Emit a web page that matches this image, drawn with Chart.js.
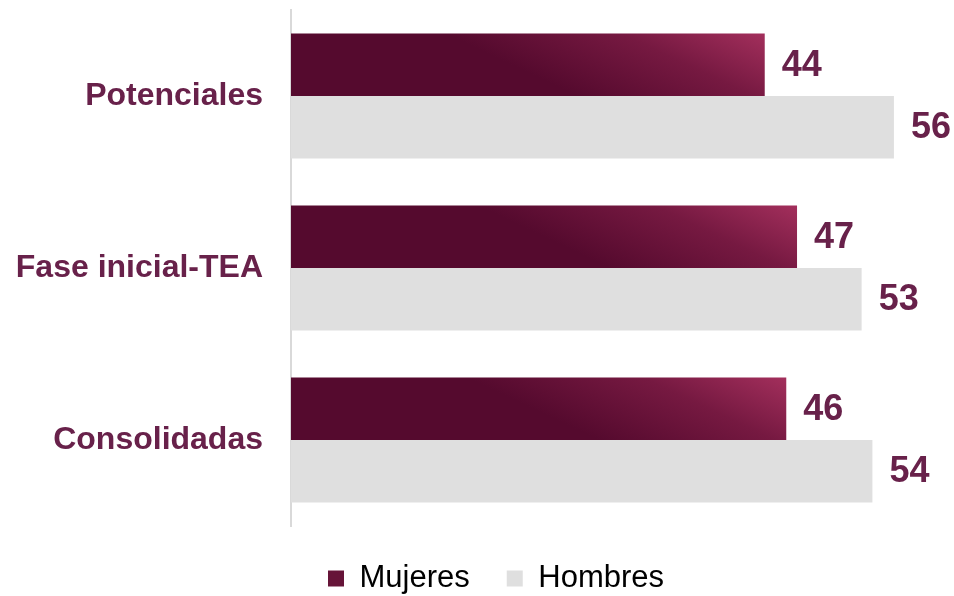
<!DOCTYPE html>
<html>
<head>
<meta charset="utf-8">
<script src="https://cdn.jsdelivr.net/npm/chart.js@4"></script>
<style>
  html, body { margin: 0; padding: 0; background: #fff; }
  #wrap { width: 954px; height: 596px; }
</style>
</head>
<body>
<div id="wrap"><canvas id="genderChart"></canvas></div>
<script>
// Data
const categories = ["Potenciales", "Fase inicial-TEA", "Consolidadas"];
const mujeres = [44, 47, 46];
const hombres = [56, 53, 54];
const seriesNames = ["Mujeres", "Hombres"];

const labelColor = "#68214a";
const greyBar = "#dfdfdf";
const barShare = 0.728; // categoryPercentage

// gradient for the "Mujeres" bars: dark on the left, lighter at the upper right
function mujeresFill(ctx) {
  const chart = ctx.chart;
  const xs = chart.scales.x;
  const ys = chart.scales.y;
  if (ctx.type !== "data" || !xs || !ys || !chart.chartArea) return "#5a0d33";
  const right = xs.getPixelForValue(ctx.raw);
  const band = ys.height / categories.length;
  const hb = (band * barShare) / 2;
  const top = ys.getPixelForValue(ctx.dataIndex) - hb;
  const g = chart.ctx.createLinearGradient(right - 0.93 * hb, top + 1.97 * hb, right, top);
  g.addColorStop(0, "#550a2e");
  g.addColorStop(0.55, "#761941");
  g.addColorStop(1, "#a32f5c");
  return g;
}

// value labels at the end of each bar
const valueLabels = {
  id: "valueLabels",
  afterDatasetsDraw(chart) {
    const c = chart.ctx;
    c.save();
    c.font = "bold 36px 'Liberation Sans', Arial, sans-serif";
    c.fillStyle = labelColor;
    c.textAlign = "left";
    c.textBaseline = "middle";
    chart.data.datasets.forEach((ds, di) => {
      chart.getDatasetMeta(di).data.forEach((bar, i) => {
        c.fillText(ds.data[i], bar.x + 17, bar.y + 1);
      });
    });
    c.restore();
  },
};

new Chart(document.getElementById("genderChart"), {
  type: "bar",
  data: {
    labels: categories,
    datasets: [
      {
        label: seriesNames[0],
        data: mujeres,
        backgroundColor: mujeresFill,
        borderWidth: 0,
      },
      {
        label: seriesNames[1],
        data: hombres,
        backgroundColor: greyBar,
        borderWidth: 0,
      },
    ],
  },
  options: {
    indexAxis: "y",
    responsive: true,
    maintainAspectRatio: false,
    animation: false,
    layout: { padding: { top: 10, right: 17, left: 0, bottom: -8 } },
    datasets: {
      bar: { barPercentage: 1, categoryPercentage: barShare },
    },
    scales: {
      x: { display: false, min: 0, max: 60 },
      y: {
        afterFit: (s) => {
          s.width = 291;
          s.paddingTop = 0;
          s.paddingBottom = 0;
        },
        grid: { display: false, drawTicks: false },
        border: { display: true, color: "#d9d9d9", width: 2 },
        ticks: {
          padding: 28,
          color: labelColor,
          font: { family: "'Liberation Sans', Arial, sans-serif", size: 32, weight: "bold" },
        },
      },
    },
    plugins: {
      tooltip: { enabled: false },
      legend: {
        position: "bottom",
        fullSize: false,
        align: "start",
        labels: {
          boxWidth: 16,
          boxHeight: 16,
          padding: 37,
          color: "#000",
          font: { family: "'Liberation Sans', Arial, sans-serif", size: 31 },
          generateLabels: (chart) => {
            const items = Chart.defaults.plugins.legend.labels.generateLabels(chart);
            items[0].fillStyle = "#661438";
            items[1].fillStyle = greyBar;
            items.forEach((it) => { it.lineWidth = 0; it.strokeStyle = "rgba(0,0,0,0)"; });
            return items;
          },
        },
      },
    },
  },
  plugins: [valueLabels],
});
</script>
</body>
</html>
